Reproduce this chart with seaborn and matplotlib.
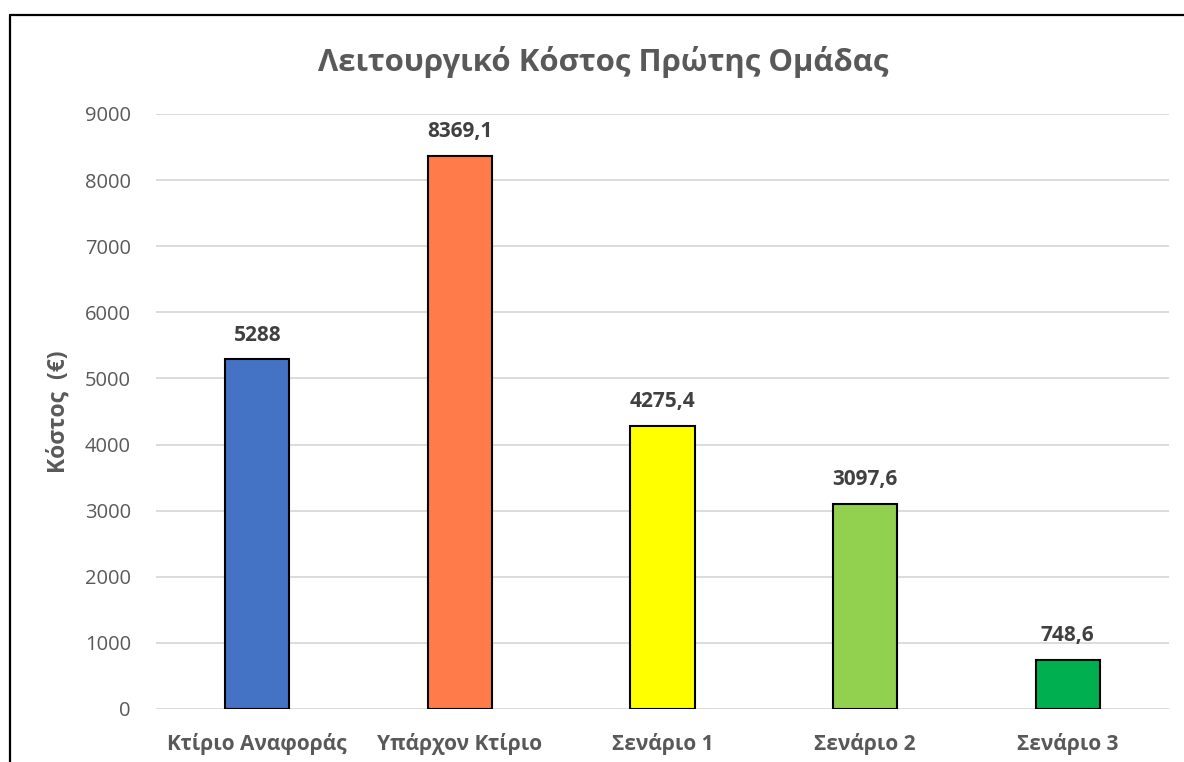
import matplotlib
matplotlib.use("Agg")
import matplotlib.pyplot as plt
import seaborn as sns
import pandas as pd
from matplotlib.lines import Line2D

categories = ["Κτίριο Αναφοράς", "Υπάρχον Κτίριο", "Σενάριο 1", "Σενάριο 2", "Σενάριο 3"]
costs = [5288, 8369.1, 4275.4, 3097.6, 748.6]
value_labels = ["5288", "8369,1", "4275,4", "3097,6", "748,6"]
bar_colors = ["#4472C4", "#FF7C4A", "#FFFF00", "#92D050", "#00B050"]
y_ticks = [0, 1000, 2000, 3000, 4000, 5000, 6000, 7000, 8000, 9000]

sns.set_theme(style="white")
plt.rcParams["font.family"] = ["Open Sans", "DejaVu Sans"]

df = pd.DataFrame({"category": categories, "cost": costs})

fig = plt.figure(figsize=(11.84, 7.62), dpi=100)
ax = fig.add_axes([156 / 1184, 1 - 709 / 762, (1169 - 156) / 1184, (709 - 114) / 762])

sns.barplot(data=df, x="category", y="cost", hue="category", palette=bar_colors,
            order=categories, hue_order=categories, width=0.316, legend=False,
            saturation=1, edgecolor="black", linewidth=1.5, ax=ax, zorder=3)

ax.set_ylim(0, 9000)
ax.set_yticks(y_ticks)
ax.set_yticklabels([str(t) for t in y_ticks], fontsize=14.5, color="#595959")
ax.grid(axis="y", color="#d9d9d9", linewidth=1.3, zorder=0)
ax.grid(axis="x", visible=False)
for s in ax.spines.values():
    s.set_visible(False)
ax.tick_params(axis="both", length=0)
ax.tick_params(axis="y", pad=18)
ax.tick_params(axis="x", pad=17)
for lbl in ax.get_xticklabels():
    lbl.set_fontweight("bold")
    lbl.set_fontsize(15)
    lbl.set_color("#595959")

ax.set_xlabel("")
ax.set_ylabel("Κόστος  (€)", fontsize=16.5, fontweight="bold", color="#595959", labelpad=10)

for i, (v, t) in enumerate(zip(costs, value_labels)):
    ax.annotate(t, (i, v), xytext=(0, 10), textcoords="offset points",
                ha="center", va="bottom", fontsize=15, fontweight="bold", color="#404040")

fig.text(603 / 1184, 1 - 62 / 762, "Λειτουργικό Κόστος Πρώτης Ομάδας",
         ha="center", va="center", fontsize=22.4, fontweight="bold", color="#595959")

# chart frame (left and top edges)
fig.add_artist(Line2D([10 / 1184, 10 / 1184], [0, 1 - 15 / 762], color="black", linewidth=1.6,
                      transform=fig.transFigure))
fig.add_artist(Line2D([10 / 1184, 1], [1 - 15 / 762, 1 - 15 / 762], color="black", linewidth=1.6,
                      transform=fig.transFigure))

fig.savefig("out.png", dpi=100)
